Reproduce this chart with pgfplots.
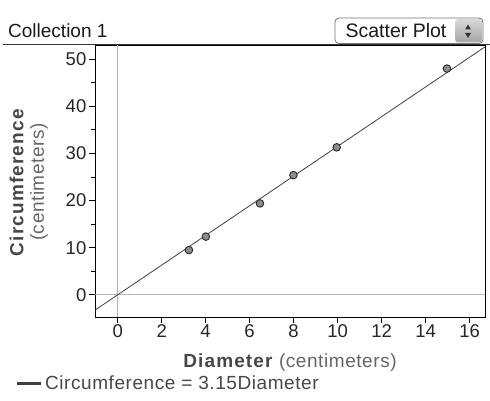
\documentclass[border=0pt]{standalone}
\usepackage{fontspec}
\setmainfont{Liberation Sans}
\usepackage{pgfplots}
\pgfplotsset{compat=1.18}
\definecolor{labgray}{HTML}{474747}
\definecolor{lightlab}{HTML}{666666}
\definecolor{refgray}{HTML}{B4B4B4}
\definecolor{ptfill}{HTML}{8C8C8C}
\newcommand{\bw}[1]{{\addfontfeature{LetterSpace=6}\textbf{#1}}}
\newcommand{\rw}[1]{{\addfontfeature{LetterSpace=3}#1}}
\begin{document}
\begin{tikzpicture}
\path[use as bounding box] (0,0) rectangle (490pt,400pt);
\begin{axis}[
  at={(95pt,83pt)}, anchor=south west,
  width=390pt, height=272pt, scale only axis,
  xmin=-1.03, xmax=16.7, ymin=-4.7, ymax=53,
  xtick={0,2,...,16}, ytick={0,10,...,50}, minor ytick={5,15,...,45},
  tick align=outside, tick pos=left,
  major tick length=5.5pt, minor tick length=3.5pt,
  every tick/.style={black, line width=0.8pt},
  ticklabel style={font=\fontsize{18.5}{20}\selectfont, text=black!85},
  xticklabel style={inner sep=2pt},
  yticklabel style={inner sep=3pt},
  /pgf/number format/assume math mode=true,
  axis line style={line width=0.8pt, black},
  xlabel={{\color{labgray}\bw{Diameter}} {\color{lightlab}\rw{(centimeters)}}},
  xlabel style={font=\fontsize{19}{20}\selectfont, at={(axis description cs:0.5,-0.168)}, anchor=center},
  ylabel={{\color{labgray}\bw{Circumference}}\\{\color{lightlab}\rw{(centimeters)}}},
  ylabel style={font=\fontsize{19}{20.5}\selectfont, align=center, at={(axis description cs:-0.17,0.496)}, anchor=center},
  legend style={draw=none, fill=none, at={(axis description cs:-0.205,-0.243)}, anchor=west,
    font=\fontsize{19}{20}\selectfont, text=labgray, inner sep=0pt},
  legend image code/.code={\draw[#1, line width=3pt] (0pt,0pt) -- (24pt,0pt); \path (26pt,0pt);},
  legend cell align=left,
]
\addplot[forget plot, refgray, line width=1.2pt] coordinates {(0,-4.7) (0,53)};
\addplot[forget plot, refgray, line width=1.2pt] coordinates {(-1.03,0) (16.7,0)};
\addplot[black!75, line width=0.8pt] coordinates {(-1.03,-3.2445) (16.7,52.605)};
\addlegendentry{\rw{Circumference = 3.15Diameter}}
\addplot[forget plot, only marks, mark=*, mark size=3.8pt, mark options={fill=ptfill, draw=black!85, line width=0.9pt}]
  coordinates {(3.24,9.5) (4.01,12.35) (6.47,19.4) (7.99,25.4) (9.96,31.3) (14.97,48.0)};
\end{axis}
% header
\draw[line width=1.6pt, black!80] (3pt,355.5pt) -- (490pt,355.5pt);
\node[anchor=base west, inner sep=0pt, font=\fontsize{19}{20}\selectfont, text=black!90] at (8pt,362pt) {Collection 1};
\draw[rounded corners=4pt, draw=black!55, fill=white, line width=0.8pt] (335pt,356.5pt) rectangle (483pt,382pt);
\shade[top color=black!15, bottom color=black!35, rounded corners=3pt] (455pt,357.5pt) rectangle (482pt,381pt);
\fill[black!80] (465pt,370.5pt) -- (471pt,370.5pt) -- (468pt,375.5pt) -- cycle;
\fill[black!80] (465pt,367pt) -- (471pt,367pt) -- (468pt,362pt) -- cycle;
\node[anchor=center, inner sep=0pt, font=\fontsize{19.5}{20}\selectfont, text=black!90] at (396pt,369.5pt) {Scatter Plot};
\end{tikzpicture}
\end{document}
